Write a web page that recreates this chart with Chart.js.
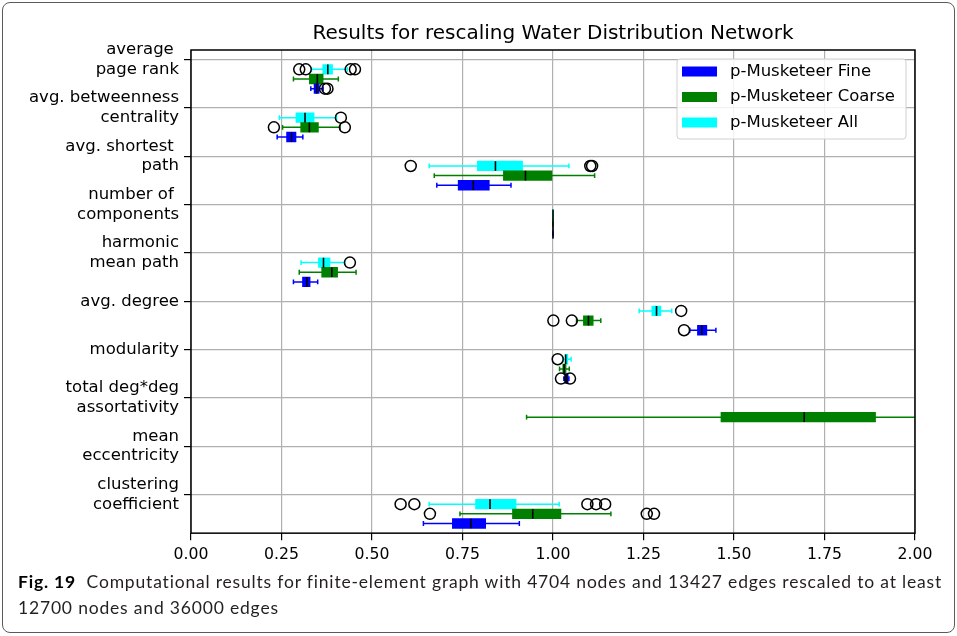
<!DOCTYPE html>
<html>
<head>
<meta charset="utf-8">
<title>Results for rescaling Water Distribution Network</title>
<script src="https://cdn.jsdelivr.net/npm/chart.js@4.4.1/dist/chart.umd.min.js"></script>
<style>
  html, body { margin: 0; padding: 0; background: #fff; }
  body { width: 957px; height: 636px; position: relative; overflow: hidden; }
  #chart { position: absolute; left: 0; top: 0; }
  .frame { position: absolute; left: 2px; top: 2px; width: 951px; height: 629px;
           border: 1px solid #5a5a5a; border-radius: 8px; pointer-events: none; }
  .caption { position: absolute; left: 18px; top: 569px; font-family: Lato, "Open Sans", sans-serif;
             font-size: 17.5px; line-height: 26px; color: #231f20; white-space: nowrap; }
  .caption b { color: #000; }
</style>
</head>
<body>
<canvas id="chart" width="957" height="570"></canvas>
<div class="caption" id="caption">
  <span id="cap1"><b>Fig. 19</b>&nbsp; Computational results for finite-element graph with 4704 nodes and 13427 edges rescaled to at least</span><br>
  <span>12700 nodes and 36000 edges</span>
</div>
<div class="frame"></div>

<script>
/* ---------- data ---------- */
const categories = [
  ['average ', 'page rank'],
  ['avg. betweenness', 'centrality'],
  ['avg. shortest ', 'path'],
  ['number of ', 'components'],
  ['harmonic', 'mean path'],
  ['avg. degree'],
  ['modularity'],
  ['total deg*deg', 'assortativity'],
  ['mean', 'eccentricity'],
  ['clustering', 'coefficient'],
];
const xTicks = [0, 0.25, 0.5, 0.75, 1.0, 1.25, 1.5, 1.75, 2.0];

// [whisker low, Q1, median, Q3, whisker high]; null = no box
const fineBoxes = [
  [0.331, 0.340, 0.347, 0.354, 0.365],
  [0.238, 0.264, 0.278, 0.290, 0.309],
  [0.679, 0.738, 0.780, 0.824, 0.884],
  [1.000, 1.000, 1.000, 1.000, 1.000],
  [0.283, 0.308, 0.320, 0.329, 0.350],
  [1.378, 1.399, 1.411, 1.425, 1.450],
  [1.030, 1.033, 1.038, 1.042, 1.044],
  null,
  null,
  [0.642, 0.722, 0.773, 0.814, 0.907],
];
const fineOutliers = [[0.370, 0.377], [], [], [], [], [1.362], [1.022, 1.047], [], [], []];

const coarseBoxes = [
  [0.283, 0.327, 0.349, 0.365, 0.407],
  [0.253, 0.303, 0.327, 0.352, 0.412],
  [0.672, 0.863, 0.924, 0.997, 1.115],
  [1.000, 1.000, 1.000, 1.000, 1.000],
  [0.299, 0.361, 0.389, 0.405, 0.456],
  [1.065, 1.084, 1.098, 1.111, 1.132],
  [1.018, 1.027, 1.031, 1.036, 1.045],
  [0.927, 1.464, 1.694, 1.891, 2.300],
  null,
  [0.743, 0.888, 0.944, 1.022, 1.160],
];
const coarseOutliers = [[], [0.229, 0.425], [], [], [], [1.001, 1.052], [], [], [], [0.660, 1.259, 1.279]];

const allBoxes = [
  [0.333, 0.364, 0.378, 0.391, 0.432],
  [0.244, 0.290, 0.315, 0.340, 0.402],
  [0.658, 0.791, 0.841, 0.916, 1.044],
  [1.000, 1.000, 1.000, 1.000, 1.000],
  [0.304, 0.352, 0.366, 0.384, 0.425],
  [1.238, 1.273, 1.286, 1.298, 1.328],
  [1.028, 1.033, 1.035, 1.041, 1.050],
  null,
  null,
  [0.658, 0.786, 0.826, 0.898, 1.017],
];
const allOutliers = [[0.299, 0.317, 0.441, 0.453], [0.414], [0.607, 1.103, 1.108], [], [0.439], [1.354], [1.013], [], [], [0.579, 0.617, 1.095, 1.119, 1.144]];

/* ---------- series setup ---------- */
const series = [
  { label: 'p-Musketeer Fine',   color: '#0000ff', boxes: fineBoxes,   outliers: fineOutliers,   shift: 0.6 },
  { label: 'p-Musketeer Coarse', color: '#008000', boxes: coarseBoxes, outliers: coarseOutliers, shift: 0.4 },
  { label: 'p-Musketeer All',    color: '#00ffff', boxes: allBoxes,    outliers: allOutliers,    shift: 0.2 },
];
const CAP = 0.05, HALF = 0.1;
const GAP = { x: null, y: null };

const datasets = [];
series.forEach(s => {
  datasets.push({
    type: 'bar', label: s.label, indexAxis: 'y', grouped: false,
    data: s.boxes.map((b, i) => b && { y: i + s.shift, x: [b[1], b[3]] }).filter(Boolean),
    backgroundColor: s.color, borderWidth: 0, barPercentage: 1, categoryPercentage: 1, order: 3,
  });
});
series.forEach(s => {
  const pts = [];
  s.boxes.forEach((b, i) => {
    if (!b) return;
    const y = i + s.shift;
    pts.push({ x: b[0], y }, { x: b[4], y }, GAP,
             { x: b[0], y: y - CAP }, { x: b[0], y: y + CAP }, GAP,
             { x: b[4], y: y - CAP }, { x: b[4], y: y + CAP }, GAP);
  });
  datasets.push({ type: 'line', label: s.label + ' whiskers', data: pts, borderColor: s.color,
    borderWidth: 1.5, pointRadius: 0, spanGaps: false, fill: false, order: 4 });
});
series.forEach(s => {
  const pts = [];
  s.boxes.forEach((b, i) => {
    if (!b) return;
    const y = i + s.shift;
    pts.push({ x: b[2], y: y - HALF }, { x: b[2], y: y + HALF }, GAP);
  });
  datasets.push({ type: 'line', label: s.label + ' median', data: pts, borderColor: '#000',
    borderWidth: 1.6, pointRadius: 0, spanGaps: false, fill: false, order: 2 });
});
series.forEach(s => {
  const pts = [];
  s.outliers.forEach((list, i) => list.forEach(v => pts.push({ x: v, y: i + s.shift })));
  datasets.push({ type: 'line', label: s.label + ' outliers', data: pts, showLine: false,
    pointStyle: 'circle', pointRadius: 5.5, pointBorderWidth: 1.5, pointBorderColor: '#000',
    pointBackgroundColor: 'rgba(0,0,0,0)', order: 1 });
});

/* ---------- plugins: frame + legend ---------- */
const framePlugin = {
  id: 'frame',
  afterDatasetsDraw(chart) {
    const { ctx, chartArea: a } = chart;
    ctx.save();
    ctx.strokeStyle = '#000';
    ctx.lineWidth = 1.5;
    ctx.strokeRect(a.left, a.top, a.right - a.left, a.bottom - a.top);
    ctx.restore();
  }
};

const legendPlugin = {
  id: 'boxLegend',
  afterDraw(chart) {
    const { ctx, chartArea: a } = chart;
    const items = chart.data.datasets.filter(d => d.type === 'bar');
    const w = 229, h = 80;
    const x = a.right - 9 - w, y = a.top + 9;
    ctx.save();
    ctx.beginPath();
    ctx.roundRect(x, y, w, h, 3);
    ctx.fillStyle = 'rgba(255,255,255,0.85)';
    ctx.fill();
    ctx.strokeStyle = '#d0d0d0';
    ctx.lineWidth = 1;
    ctx.stroke();
    ctx.font = '16.5px "DejaVu Sans"';
    ctx.textBaseline = 'middle';
    items.forEach((d, k) => {
      const cy = y + 12.5 + k * 25.5;
      ctx.fillStyle = d.backgroundColor;
      ctx.fillRect(x + 5, cy - 5, 35, 10);
      ctx.fillStyle = '#000';
      ctx.fillText(d.label, x + 53, cy);
    });
    ctx.restore();
  }
};

/* ---------- chart ---------- */
const tickFontX = { family: 'DejaVu Sans', size: 15.7 };
const tickFontY = { family: 'DejaVu Sans', size: 16.5 };
const gridOpts = { color: '#b0b0b0', lineWidth: 1.2, tickLength: 7, tickColor: '#000', tickWidth: 1.2, offset: false };

new Chart(document.getElementById('chart'), {
  type: 'bar',
  data: { datasets },
  options: {
    responsive: false,
    animation: false,
    events: [],
    layout: { padding: { left: 0, right: 42, top: 0, bottom: 0 } },
    plugins: {
      legend: { display: false },
      tooltip: { enabled: false },
      title: {
        display: true, fullSize: false,
        text: 'Results for rescaling Water Distribution Network',
        color: '#000',
        font: { family: 'DejaVu Sans', size: 20, weight: 'normal' },
        padding: { top: 22, bottom: 4 }
      }
    },
    scales: {
      x: {
        type: 'linear', position: 'bottom', min: 0, max: 2, bounds: 'data', offset: false,
        afterBuildTicks: s => { s.ticks = xTicks.map(v => ({ value: v })); },
        ticks: { callback: v => Number(v).toFixed(2), font: tickFontX, color: '#000', padding: 5.5, maxRotation: 0 },
        grid: gridOpts,
        border: { display: false }
      },
      y: {
        type: 'linear', position: 'left', min: -0.2, max: 9.8, reverse: true, bounds: 'data', offset: false,
        afterBuildTicks: s => { s.ticks = categories.map((c, i) => ({ value: i })); },
        afterFit: s => { s.width = 191; },
        ticks: { callback: v => categories[v], font: tickFontY, color: '#000', padding: 5 },
        grid: gridOpts,
        border: { display: false }
      }
    }
  },
  plugins: [framePlugin, legendPlugin]
});

/* ---------- caption fit ---------- */
const cap1 = document.getElementById('cap1');
const capW = cap1.getBoundingClientRect().width;
const capN = cap1.textContent.length;
document.getElementById('caption').style.letterSpacing = ((924 - capW) / capN).toFixed(3) + 'px';
</script>
</body>
</html>
